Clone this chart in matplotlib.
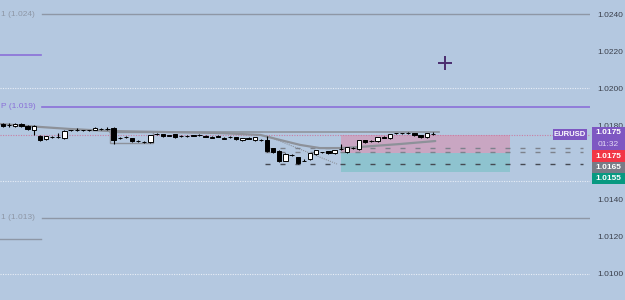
import matplotlib
matplotlib.use("Agg")
import matplotlib.pyplot as plt
from matplotlib.patches import Rectangle
from matplotlib.transforms import blended_transform_factory

# candles (EURUSD, small timeframe)
opens = [1.01806, 1.01800, 1.01795, 1.01806, 1.01795, 1.01774, 1.01741, 1.01725, 1.01737, 1.01736,
         1.01730, 1.01774, 1.01774, 1.01773, 1.01774, 1.01774, 1.01780, 1.01780, 1.01785, 1.01730,
         1.01736, 1.01730, 1.01714, 1.01708, 1.01708, 1.01752, 1.01752, 1.01744, 1.01752, 1.01741,
         1.01741, 1.01748, 1.01746, 1.01743, 1.01734, 1.01743, 1.01727, 1.01737, 1.01736, 1.01719,
         1.01733, 1.01719, 1.01719, 1.01719, 1.01676, 1.01659, 1.01610, 1.01637, 1.01627, 1.01610,
         1.01616, 1.01643, 1.01655, 1.01659, 1.01648, 1.01670, 1.01654, 1.01676, 1.01670, 1.01719,
         1.01714, 1.01714, 1.01738, 1.01730, 1.01757, 1.01756, 1.01757, 1.01757, 1.01746, 1.01736,
         1.01754]
highs = [1.01812, 1.01812, 1.01810, 1.01810, 1.01801, 1.01800, 1.01746, 1.01744, 1.01740, 1.01757,
         1.01772, 1.01777, 1.01785, 1.01776, 1.01777, 1.01788, 1.01783, 1.01790, 1.01790, 1.01736,
         1.01741, 1.01733, 1.01720, 1.01714, 1.01749, 1.01757, 1.01755, 1.01750, 1.01755, 1.01746,
         1.01746, 1.01750, 1.01752, 1.01746, 1.01741, 1.01746, 1.01736, 1.01740, 1.01739, 1.01733,
         1.01736, 1.01739, 1.01725, 1.01741, 1.01679, 1.01665, 1.01648, 1.01646, 1.01630, 1.01616,
         1.01651, 1.01668, 1.01658, 1.01662, 1.01668, 1.01697, 1.01684, 1.01681, 1.01722, 1.01722,
         1.01719, 1.01739, 1.01741, 1.01755, 1.01760, 1.01760, 1.01763, 1.01760, 1.01749, 1.01760,
         1.01762]
lows = [1.01792, 1.01790, 1.01792, 1.01793, 1.01774, 1.01746, 1.01714, 1.01722, 1.01733, 1.01733,
        1.01728, 1.01770, 1.01770, 1.01771, 1.01771, 1.01772, 1.01777, 1.01772, 1.01697, 1.01727,
        1.01733, 1.01711, 1.01711, 1.01705, 1.01705, 1.01749, 1.01738, 1.01742, 1.01733, 1.01738,
        1.01738, 1.01742, 1.01743, 1.01735, 1.01731, 1.01735, 1.01725, 1.01733, 1.01722, 1.01716,
        1.01724, 1.01716, 1.01714, 1.01654, 1.01651, 1.01600, 1.01607, 1.01632, 1.01591, 1.01605,
        1.01613, 1.01640, 1.01651, 1.01645, 1.01645, 1.01665, 1.01651, 1.01673, 1.01667, 1.01705,
        1.01711, 1.01711, 1.01731, 1.01727, 1.01754, 1.01753, 1.01754, 1.01743, 1.01733, 1.01733,
        1.01750]
closes = [1.01795, 1.01801, 1.01806, 1.01795, 1.01779, 1.01795, 1.01719, 1.01741, 1.01735, 1.01737,
          1.01768, 1.01773, 1.01774, 1.01774, 1.01773, 1.01785, 1.01779, 1.01780, 1.01719, 1.01730,
          1.01736, 1.01714, 1.01714, 1.01708, 1.01746, 1.01752, 1.01741, 1.01748, 1.01736, 1.01741,
          1.01741, 1.01744, 1.01746, 1.01738, 1.01738, 1.01738, 1.01733, 1.01735, 1.01725, 1.01730,
          1.01727, 1.01736, 1.01719, 1.01659, 1.01654, 1.01605, 1.01643, 1.01637, 1.01594, 1.01610,
          1.01648, 1.01665, 1.01654, 1.01648, 1.01665, 1.01670, 1.01681, 1.01676, 1.01719, 1.01708,
          1.01714, 1.01736, 1.01734, 1.01752, 1.01756, 1.01757, 1.01757, 1.01746, 1.01736, 1.01757,
          1.01752]

# moving average (bar index, price)
ma_x = [-0.5, 6.0, 10.9, 17.4, 25.6, 35.3, 41.9, 45.1, 48.4, 51.6, 54.9, 58.1, 64.7, 70.4]
ma_y = [1.01807, 1.01791, 1.01780, 1.01769, 1.01764, 1.01758, 1.01748, 1.01721, 1.01694,
        1.01677, 1.01677, 1.01683, 1.01699, 1.01715]

# pivot levels (labels as far as they show at the left edge)
pivot_names = ["1 (1.024)", "P (1.019)", "1 (1.013)"]
pivot_levels = [1.024, 1.019, 1.013]
prev_levels = [1.02177, 1.01185]
grid_levels = [1.0200, 1.0150, 1.0100]

# position tool
entry_price = 1.0175
mid_price = 1.0165
low_price = 1.0155
order_levels = [1.01677, 1.01656, 1.01591]

# right price scale
tick_values = [1.0240, 1.0220, 1.0200, 1.0180, 1.0140, 1.0120, 1.0100]
tick_labels = ["1.0240", "1.0220", "1.0200", "1.0180", "1.0140", "1.0120", "1.0100"]
tag_texts = ["1.0175", "1.0175", "1.0165", "1.0155"]
tag_colors = ["#7e57c2", "#f23645", "#787b86", "#089981"]

bg = "#b4c8e0"
plt.rcParams['font.family'] = ['Liberation Sans', 'DejaVu Sans']

fig = plt.figure(figsize=(6.25, 3), dpi=100)
fig.patch.set_facecolor(bg)
ax = fig.add_axes([0, 0, 590 / 625, 1])
ax.set_facecolor(bg)
ax.set_xlim(-0.49, 95.6)
ax.set_ylim(1.008578, 1.024755)
for s in ax.spines.values():
    s.set_visible(False)
ax.set_xticks([])
ax.yaxis.tick_right()
ax.set_yticks(tick_values)
ax.set_yticklabels(tick_labels)
ax.tick_params(axis='y', length=0, pad=5, labelsize=6, labelcolor='#3b404c')

# grid
for g in grid_levels:
    ax.axhline(g, color='#e8eef7', lw=0.8, linestyle=(0, (1, 1.2)), zorder=1)

# pivots
fx = blended_transform_factory(fig.transFigure, ax.transData)
pivot_colors = ['#8e97a6', '#8a70d8', '#8e97a6']
for name, lvl, col in zip(pivot_names, pivot_levels, pivot_colors):
    ax.plot([6.35, 95.6], [lvl, lvl], color=col, lw=1.2 if col == '#8a70d8' else 1.0, zorder=2)
    fig.text(1 / 625, lvl, name, transform=fx, ha='left', va='center', fontsize=6, color=col)
ax.plot([-0.5, 6.2], [prev_levels[0]] * 2, color='#8a70d8', lw=1.2, zorder=2)
ax.plot([-0.5, 6.2], [prev_levels[1]] * 2, color='#8e97a6', lw=1.0, zorder=2)

# position boxes
ax.add_patch(Rectangle((55.0, mid_price), 27.6, entry_price - mid_price, facecolor='#c9a6c2',
                       edgecolor='none', zorder=2))
ax.add_patch(Rectangle((55.0, low_price), 27.6, mid_price - low_price, facecolor='#8ec3cf',
                       edgecolor='none', zorder=2))

# light band and grey structure
ax.add_patch(Rectangle((42.3, 1.01758), 18.5, 0.00011, facecolor='#c3d5ea', edgecolor='none', zorder=2))
ax.add_patch(Rectangle((17.4, 1.01707), 7.0, 0.00057, facecolor='none', edgecolor='#8d929b',
                       lw=1.0, zorder=3))
ax.plot([17.4, 71.0], [1.01764, 1.01764], color='#8d929b', lw=1.2, zorder=3)
ax.plot([43.5, 54.4], [1.01736, 1.01591], color='#8d929b', lw=0.8, linestyle=(0, (1, 1)), zorder=3)

# order lines
order_colors = ['#7d828c', '#7d828c', '#464a53']
for lvl, col in zip(order_levels, order_colors):
    ax.plot([42.7, 94.5], [lvl, lvl], color=col, lw=1.0, dashes=(3.6, 7.2), zorder=3)

# price line
ax.axhline(entry_price, color='#c97ea3', lw=0.8, linestyle=(0, (1, 1.3)), zorder=3)

# moving average
ax.plot(ma_x, ma_y, color='#8d9199', lw=1.6, zorder=4, solid_capstyle='round')

# candles
for i, (o, h, l, c) in enumerate(zip(opens, highs, lows, closes)):
    ax.vlines(i, l, h, color='black', lw=0.8, zorder=5)
    face = 'white' if c >= o else 'black'
    ax.add_patch(Rectangle((i - 0.35, min(o, c)), 0.7, abs(c - o), facecolor=face,
                           edgecolor='black', lw=0.7, zorder=6))

# crosshair
ax.plot(72.0, 1.02136, marker='+', ms=10, mew=1.4, color='#4a2c6e', zorder=7)

# symbol label
ax.add_patch(Rectangle((89.6, 1.01718), 5.5, 0.00064, facecolor='#7e57c2', edgecolor='none', zorder=7))
ax.text(92.35, 1.0175, "EURUSD", ha='center', va='center', fontsize=5.5, color='white',
        fontweight='bold', zorder=8)

# right tags (pixel layout)
tag_boxes = [(127, 150), (150, 162), (162, 173), (173, 184)]
for (top, bot), txt, col in zip(tag_boxes, tag_texts, tag_colors):
    fig.patches.append(Rectangle((592 / 625, 1 - bot / 300), 33 / 625, (bot - top) / 300,
                                 transform=fig.transFigure, facecolor=col, edgecolor='none'))
    yc = (top + 6 if bot - top > 15 else (top + bot) / 2)
    fig.text(608 / 625, 1 - yc / 300, txt, ha='center', va='center', fontsize=6,
             color='white', fontweight='bold')
fig.text(608 / 625, 1 - 144 / 300, "01:32", ha='center', va='center', fontsize=6, color='#e2d8f5')

fig.savefig("out.png", dpi=100, facecolor=bg)
